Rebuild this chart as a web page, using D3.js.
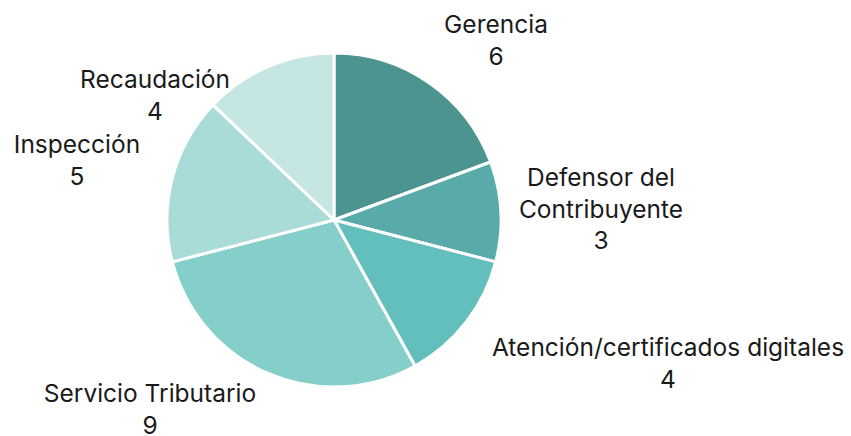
<!DOCTYPE html>
<html><head><meta charset="utf-8">
<script src="https://cdn.jsdelivr.net/npm/d3@7/dist/d3.min.js"></script>
<style>html,body{margin:0;padding:0;background:#fff;}svg{display:block;}</style>
</head><body>
<script>
const categories = ["Gerencia", "Defensor del Contribuyente", "Atención/certificados digitales", "Servicio Tributario", "Inspección", "Recaudación"];
const values = [6, 3, 4, 9, 5, 4];
const labelLines = [["Gerencia"], ["Defensor del", "Contribuyente"], ["Atención/certificados digitales"], ["Servicio Tributario"], ["Inspección"], ["Recaudación"]];
const colors = ["#4b9490", "#58aba9", "#62bfbb", "#84cfca", "#a9dbd8", "#c6e6e4"];

// layout (label anchor offsets relative to pie center: centre x, first baseline y)
const labelPos = [[162, -187], [267, -34], [334, 136], [-184, 182], [-257, -67], [-179, -132]];

const W = 851, H = 436, cx = 334, cy = 220, R = 167;
const svg = d3.select("body").append("svg").attr("width", W).attr("height", H);
const g = svg.append("g").attr("transform", `translate(${cx},${cy})`);

const pie = d3.pie().sort(null).value(d => d);
const arc = d3.arc().innerRadius(0).outerRadius(R);
const arcs = pie(values);

g.selectAll("path").data(arcs).join("path")
  .attr("d", arc)
  .attr("fill", (d, i) => colors[i])
  .attr("stroke", "#fff")
  .attr("stroke-width", 3)
  .attr("stroke-linejoin", "round");

const lh = 31.5;
arcs.forEach((d, i) => {
  const [x, y] = labelPos[i];
  const t = g.append("text")
    .attr("text-anchor", "middle")
    .attr("font-family", "Inter, sans-serif")
    .attr("font-size", 24.5)
    .attr("fill", "#1a1a1a");
  const lines = labelLines[i].concat([String(values[i])]);
  lines.forEach((s, k) => {
    t.append("tspan").attr("x", x).attr("y", y + k * lh).text(s);
  });
});
</script>
</body></html>
